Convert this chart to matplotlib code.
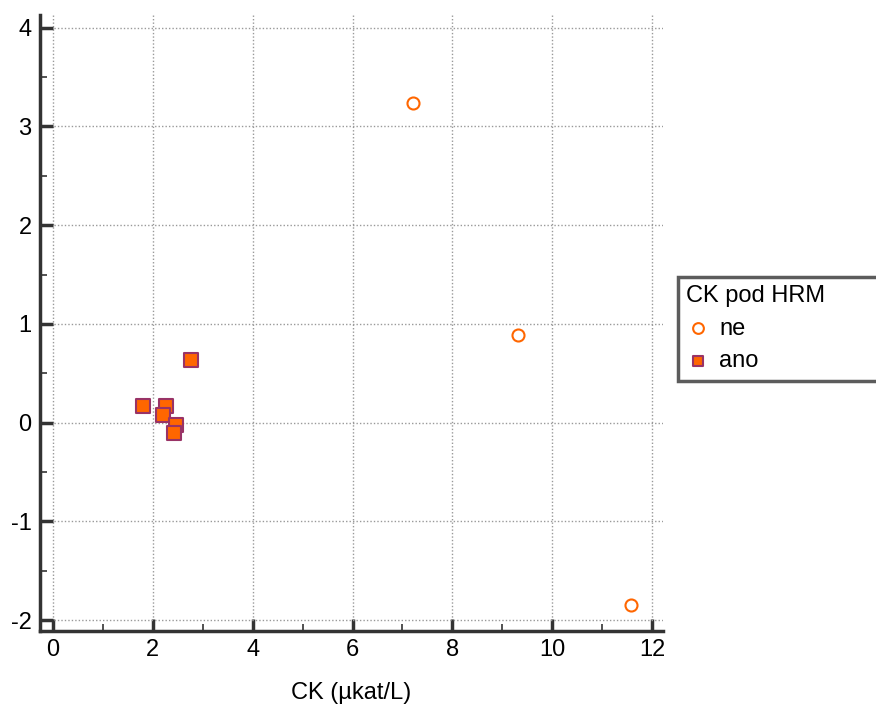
import matplotlib
matplotlib.use("Agg")
import matplotlib.pyplot as plt
from matplotlib.ticker import MultipleLocator

plt.rcParams['font.family'] = ['Liberation Sans', 'DejaVu Sans']
plt.rcParams['axes.unicode_minus'] = False

ne_x = [7.21, 9.32, 11.57]
ne_y = [3.24, 0.89, -1.85]
ano_x = [2.76, 1.80, 2.26, 2.20, 2.46, 2.43]
ano_y = [0.63, 0.165, 0.165, 0.08, -0.02, -0.10]

xticks = [0, 2, 4, 6, 8, 10, 12]
yticks = [-2, -1, 0, 1, 2, 3, 4]

fig = plt.figure(figsize=(8.76, 7.09), dpi=100)
ax = fig.add_axes([0.0457, 0.110, 0.7112, 0.869])

ax.scatter(ne_x, ne_y, s=75, facecolors='white', edgecolors='#FF6600', linewidths=1.5,
           marker='o', label='ne', zorder=3)
ax.scatter(ano_x, ano_y, s=100, facecolors='#FF6600', edgecolors='#993366', linewidths=1.5,
           marker='s', label='ano', zorder=3)

ax.set_xlim(-0.26, 12.22)
ax.set_ylim(-2.11, 4.13)
ax.set_xticks(xticks)
ax.set_yticks(yticks)
ax.xaxis.set_minor_locator(MultipleLocator(1))
ax.yaxis.set_minor_locator(MultipleLocator(0.5))
ax.grid(True, which='major', linestyle=(0, (1, 1.5)), color='#999999', linewidth=1)
ax.set_axisbelow(True)

for s in ['top', 'right']:
    ax.spines[s].set_visible(False)
for s in ['left', 'bottom']:
    ax.spines[s].set_linewidth(2.5)
    ax.spines[s].set_color('#333333')

ax.tick_params(which='major', direction='in', length=9, width=2.5, color='#333333',
               labelsize=17, pad=6)
ax.tick_params(which='minor', direction='in', length=5, width=1.2, color='#333333')
ax.set_xlabel('CK (µkat/L)', fontsize=17, labelpad=15)

leg = ax.legend(title='CK pod HRM', loc='upper left', bbox_to_anchor=(1.024, 0.0, 0.33, 0.575),
                mode='expand',
                fontsize=17, title_fontsize=17, frameon=True, fancybox=False,
                handletextpad=0.4, handlelength=1.0, borderpad=0.35, labelspacing=0.45,
                borderaxespad=0)
leg.get_frame().set_edgecolor('#333333')
leg.get_frame().set_linewidth(2.5)
leg._legend_box.align = 'left'
for h in leg.legend_handles:
    h.set_sizes([60])

fig.savefig('out.png', dpi=100)
